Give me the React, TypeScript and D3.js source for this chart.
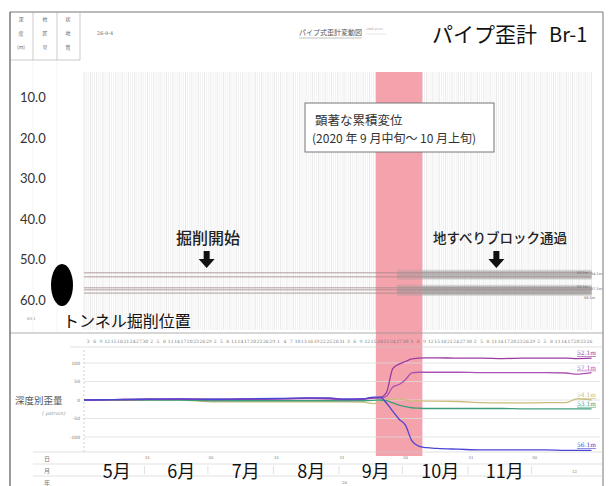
import React from 'react';
import * as d3 from 'd3';

// measurement dates for the strain-by-depth chart
const dates = [
  '2020-05-01', '2020-05-15', '2020-06-01', '2020-06-15', '2020-07-01', '2020-07-15',
  '2020-08-01', '2020-08-15', '2020-08-25', '2020-09-01', '2020-09-10', '2020-09-15',
  '2020-09-18', '2020-09-21', '2020-09-24', '2020-09-27', '2020-09-30', '2020-10-03',
  '2020-10-06', '2020-10-10', '2020-10-15', '2020-10-25', '2020-11-05', '2020-11-15',
  '2020-11-25', '2020-12-05', '2020-12-15', '2020-12-20', '2020-12-27',
];

const s521 = [0, 1, 2, 2, 2, 2, 3, 5, 4, 2, 3, 6, 7, 20, 85, 97, 104, 111, 113, 114, 114, 113, 113, 112, 113, 113, 113, 112, 113];
const s571 = [0, 1, 2, 2, 1, 2, 3, 4, 3, 1, 2, 5, 5, 10, 35, 42, 55, 73, 75, 75, 75, 75, 74, 74, 74, 74, 73, 70, 74];
const s541 = [0, 0, 0, 0, -5, -5, -5, -5, -5, -5, -6, -10, -5, 0, 2, 3, 0, -3, -2, -3, -3, -4, -7, -8, -8, -7, -7, 3, 0];
const s531 = [0, 0, 0, 0, -2, -2, -2, -2, -2, -2, -2, -1, 0, -2, -8, -14, -18, -21, -22, -23, -23, -23, -23, -23, -24, -24, -24, -24, -24];
const s561 = [0, 1, 2, 3, 2, 3, 4, 6, 6, 2, 3, 8, 8, -8, -30, -52, -68, -110, -124, -129, -131, -133, -135, -135, -135, -135, -136, -136, -136];

const seriesNames = ['54.1m', '53.1m', '57.1m', '52.1m', '56.1m'];
const seriesValues = [s541, s531, s571, s521, s561];
const seriesColors = ['#cbbb7c', '#3f9e7a', '#aa52b4', '#9a3c9e', '#4b45d6'];

const depthTicks = [10, 20, 30, 40, 50, 60];
const strainTicks = [100, 50, 0, -50, -100];
const monthLabels = ['5月', '6月', '7月', '8月', '9月', '10月', '11月'];
const monthStarts = ['2020-05-01', '2020-06-01', '2020-07-01', '2020-08-01', '2020-09-01', '2020-10-01', '2020-11-01', '2020-12-01'];

// gauge lines seen in the upper profile panel
const profileDepths = [53.3, 54.3, 57.0, 57.5, 58.3];
const profileLabels = ['53.1m', '54.1m', '56.1m', '57.1m', '58.1m'];

const periodStart = '2020-09-16';
const periodEnd = '2020-10-08';
const excavationStart = '2020-06-28';
const blockPass = '2020-11-12';

const parse = d3.timeParse('%Y-%m-%d');
const JP = '"Noto Sans CJK JP", sans-serif';

export default function App() {
  const x = d3.scaleTime()
    .domain([parse('2020-05-01')!, parse('2020-12-31')!])
    .range([84, 600]);
  const depth = d3.scaleLinear().domain([10, 60]).range([97, 300]);
  const y = d3.scaleLinear().domain([-100, 100]).range([437, 363]);

  const days = d3.timeDay.range(parse('2020-05-01')!, parse('2020-12-28')!);
  const dayTicks = d3.timeDay.range(parse('2020-05-03')!, parse('2020-12-28')!, 3);
  const parsedDates = dates.map(d => parse(d)!);
  const line = d3.line<number>()
    .x((_, i) => x(parsedDates[i]))
    .y(v => y(v))
    .curve(d3.curveMonotoneX);

  const xEnd = x(parse('2020-12-27')!);
  const pinkX0 = x(parse(periodStart)!);
  const pinkX1 = x(parse(periodEnd)!);
  const months = monthStarts.map(d => parse(d)!);

  const arrow = (cx: number) =>
    `M${cx - 3},251 L${cx + 3},251 L${cx + 3},259 L${cx + 8},259 L${cx},268 L${cx - 8},259 L${cx - 3},259 Z`;

  // label spots for the gauge bands (two side by side per band)
  const labelX = [577, 591, 577, 591, 584];
  const labelDy = [0, -3, -1, -1, 4];

  return (
    <svg width={609} height={486} style={{ position: 'absolute', left: 0, top: 0, background: '#fff' }}>
      {/* frame */}
      <line x1={10} x2={603} y1={12} y2={12} stroke="#777" />
      <line x1={10} x2={10} y1={12} y2={486} stroke="#555" strokeWidth={1.2} />
      <line x1={603} x2={603} y1={12} y2={486} stroke="#777" />
      {[33, 57, 80].map(v => (
        <line key={v} x1={v} x2={v} y1={12} y2={60} stroke="#aaa" strokeWidth={0.6} />
      ))}
      {[33, 57].map(v => (
        <line key={'f' + v} x1={v} x2={v} y1={60} y2={333} stroke="#eee" strokeWidth={0.6} />
      ))}
      <line x1={10} x2={80} y1={60} y2={60} stroke="#aaa" strokeWidth={0.6} />
      {[['深', '度', '(m)'], ['柱', '区', '号'], ['状', '地', '質']].map((col, i) =>
        col.map((t, j) => (
          <text key={i + '-' + j} x={[21, 45, 68][i]} y={21 + j * 14} fontSize={5} fill="#666" textAnchor="middle" fontFamily={JP}>{t}</text>
        )),
      )}
      <text x={97} y={35} fontSize={5} fill="#666" fontFamily="DejaVu Serif">26-9-4</text>
      <text x={299} y={35} fontSize={7} fill="#555" fontFamily={JP}>パイプ式歪計変動図</text>
      <line x1={299} x2={362} y1={38} y2={38} stroke="#999" strokeWidth={0.6} />
      <text x={366} y={30} fontSize={3} fill="#aaa" fontFamily="DejaVu Sans">1996 pt/rm</text>
      <line x1={366} x2={386} y1={34} y2={34} stroke="#ccc" strokeWidth={0.5} />
      <text x={432} y={42} fontSize={21} fill="#111" fontFamily={JP}>パイプ歪計</text>
      <text x={549} y={42} fontSize={20} fill="#111" fontFamily={JP}>Br-1</text>

      {/* upper profile panel hatch */}
      {days.map((d, i) => (
        <line key={i} x1={x(d)} x2={x(d)} y1={72} y2={330} stroke={i % 3 ? '#eeeeee' : '#e2e2e2'} strokeWidth={0.8} />
      ))}

      {/* notable displacement period */}
      <rect x={pinkX0} y={72} width={pinkX1 - pinkX0} height={384} fill="#f4a2ac" />

      {/* gauge lines */}
      {profileDepths.map((dp, i) => (
        <g key={i}>
          <line x1={x(parse('2020-09-26')!)} x2={xEnd} y1={depth(dp)} y2={depth(dp)} stroke="#999" strokeOpacity={0.3} strokeWidth={6} />
          <line x1={pinkX1} x2={xEnd} y1={depth(dp)} y2={depth(dp)} stroke="#999" strokeOpacity={0.4} strokeWidth={4} />
          <line x1={84} x2={xEnd} y1={depth(dp)} y2={depth(dp)} stroke="#a08888" strokeWidth={0.8} />
          <text x={labelX[i]} y={depth(dp) + 1.5 + labelDy[i]} fontSize={3.5} fill="#666" fontFamily="DejaVu Sans">{profileLabels[i]}</text>
        </g>
      ))}

      {depthTicks.map(t => (
        <text key={t} x={20} y={depth(t) + 5} fontSize={13} fill="#333" fontFamily="Lato">{t.toFixed(1)}</text>
      ))}
      <text x={27} y={320} fontSize={4} fill="#999" fontFamily="DejaVu Sans">63.1</text>
      <ellipse cx={62} cy={285} rx={11} ry={21} fill="#000" />
      <text x={63} y={327} fontSize={16} fill="#111" fontFamily={JP}>トンネル掘削位置</text>

      <text x={176} y={244} fontSize={16} fontWeight={500} fill="#222" fontFamily={JP}>掘削開始</text>
      <path d={arrow(x(parse(excavationStart)!))} fill="#111" />
      <text x={433} y={243} fontSize={13.5} fontWeight={500} fill="#222" fontFamily={JP}>地すべりブロック通過</text>
      <path d={arrow(x(parse(blockPass)!))} fill="#111" />

      <rect x={305} y={103} width={189} height={49} fill="#fff" stroke="#777" />
      <text x={315} y={125} fontSize={12.5} fill="#333" fontFamily={JP}>顕著な累積変位</text>
      <text x={312} y={143} fontSize={12} fill="#333" fontFamily={JP}>(2020 年 9 月中旬～ 10 月上旬)</text>

      {/* lower panel */}
      <line x1={10} x2={603} y1={333} y2={333} stroke="#999" strokeWidth={0.8} />
      <line x1={70} x2={603} y1={347} y2={347} stroke="#ccc" strokeWidth={0.6} />
      {dayTicks.map((d, i) => (
        <text key={i} x={x(d)} y={343} fontSize={4.5} fill="#777" textAnchor="middle" fontFamily="DejaVu Serif">{d.getDate()}</text>
      ))}
      {strainTicks.map(t => (
        <g key={t}>
          <line x1={84} x2={600} y1={y(t)} y2={y(t)} stroke="#ddd" strokeWidth={0.8} />
          <text x={80} y={y(t) + 1.5} fontSize={4.5} fill="#777" textAnchor="end" fontFamily="DejaVu Sans">{t}</text>
        </g>
      ))}
      <line x1={84} x2={84} y1={350} y2={452} stroke="#bbb" strokeDasharray="2,2" strokeWidth={0.7} />
      <text x={15} y={404} fontSize={9.5} fill="#555" fontFamily={JP}>深度別歪量</text>
      <text x={42} y={415} fontSize={5} fill="#999" fontStyle="italic" fontFamily="DejaVu Serif">( μstrain)</text>

      {seriesValues.map((vals, i) => (
        <g key={i}>
          <path d={line(vals)!} fill="none" stroke={seriesColors[i]} strokeWidth={1.3} />
          <text x={577} y={y(vals[vals.length - 1]) - 3} fontSize={6} fill={seriesColors[i]} textDecoration="underline" fontFamily="DejaVu Serif">{seriesNames[i]}</text>
        </g>
      ))}

      {/* date table */}
      {[452, 464, 476].map(v => (
        <line key={v} x1={33} x2={603} y1={v} y2={v} stroke="#ccc" strokeWidth={0.6} />
      ))}
      {['日', '月', '年'].map((t, i) => (
        <text key={t} x={47} y={461 + i * 12} fontSize={6} fill="#777" textAnchor="middle" fontFamily={JP}>{t}</text>
      ))}
      {months.slice(1).map((m, i) => {
        const last = d3.timeDay.offset(m, -1);
        return (
          <g key={i}>
            <text x={x(last)} y={459} fontSize={4} fill="#777" textAnchor="middle" fontFamily="DejaVu Serif">{last.getDate()}</text>
            <line x1={x(last) - 3} x2={x(last) - 3} y1={466} y2={474} stroke="#ccc" strokeWidth={0.6} />
          </g>
        );
      })}
      {monthLabels.map((m, i) => {
        const mid = new Date((months[i].getTime() + months[i + 1].getTime()) / 2);
        return (
          <text key={m} x={x(mid)} y={478} fontSize={18} fill="#111" textAnchor="middle" fontFamily={JP}>{m}</text>
        );
      })}
      <text x={572} y={473} fontSize={4} fill="#777" fontFamily="DejaVu Serif">12</text>
      <text x={342} y={484} fontSize={4} fill="#777" fontFamily="DejaVu Serif">20</text>
    </svg>
  );
}
